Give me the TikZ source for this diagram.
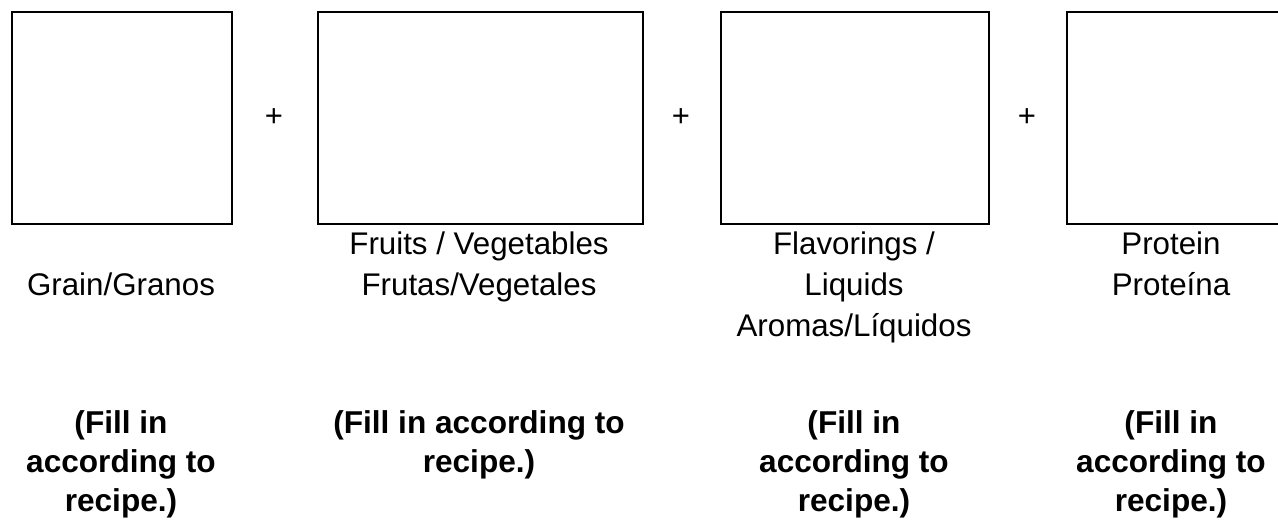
\documentclass[tikz,border=0pt]{standalone}
\usepackage{fontspec}
\setmainfont{Liberation Sans}
\usetikzlibrary{positioning}
\tikzset{
  slot/.style={
    rectangle, draw=black, line width=1.5pt,
    inner sep=0pt, anchor=north west
  },
  plussign/.style={font=\fontsize{31}{36}\selectfont, inner sep=0pt},
  foodlabel/.style={
    align=center, anchor=base, inner sep=0pt,
    font=\fontsize{31.3}{41}\selectfont
  },
  fillnote/.style={
    align=center, anchor=base, inner sep=0pt,
    font=\fontsize{31.6}{39}\selectfont\bfseries
  }
}

\begin{document}
\begin{tikzpicture}[x=1pt, y=-1pt]
\useasboundingbox (0,0) rectangle (1278,523);
\clip (0,0) rectangle (1278,523);

% empty boxes
\node[slot, minimum width=220pt, minimum height=212pt] (grain) at (11,11) {};
\node[slot, minimum width=325pt, minimum height=212pt] (fruit) at (317,11) {};
\node[slot, minimum width=268pt, minimum height=212pt] (flavor) at (720,11) {};
\node[slot, minimum width=224pt, minimum height=212pt] (protein) at (1066,11) {};

% plus signs between boxes
\node[plussign] (plusa) at (274,118) {+};
\node[plussign] (plusb) at (681,118) {+};
\node[plussign] (plusc) at (1027,118) {+};

% group names (anchored at the last line)
\node[foodlabel] (grainlbl) at (121,295) {Grain/Granos};
\node[foodlabel] (fruitlbl) at (479,295) {Fruits / Vegetables\\Frutas/Vegetales};
\node[foodlabel] (flavorlbl) at (854,336) {Flavorings /\\Liquids\\Aromas/Líquidos};
\node[foodlabel] (proteinlbl) at (1171,295) {Protein\\Proteína};

% notes
\node[fillnote] (grainnote) at (121,511) {(Fill in\\according to\\recipe.)};
\node[fillnote] (fruitnote) at (479,472) {(Fill in according to\\recipe.)};
\node[fillnote] (flavornote) at (854,511) {(Fill in\\according to\\recipe.)};
\node[fillnote] (proteinnote) at (1171,511) {(Fill in\\according to\\recipe.)};

\end{tikzpicture}
\end{document}
